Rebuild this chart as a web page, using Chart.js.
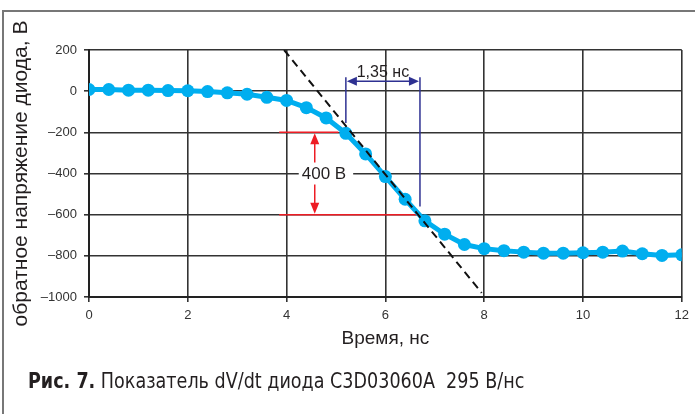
<!DOCTYPE html>
<html>
<head>
<meta charset="utf-8">
<script src="https://cdn.jsdelivr.net/npm/chart.js@4"></script>
<style>
  body { margin: 0; background: #fff; }
  #wrap { position: relative; width: 695px; height: 414px; overflow: hidden; }
  #frame { position: absolute; left: 2px; top: 10px; width: 700px; height: 420px;
           border-top: 2px solid #777; border-left: 2px solid #777; }
  #chartBox { position: absolute; left: 0; top: 0; width: 695px; height: 414px; }
  #caption { position: absolute; left: 28px; top: 369px; font-family: "DejaVu Sans Condensed", "Liberation Sans Narrow", "Roboto", sans-serif;
             font-size: 21px; color: #231f20; white-space: pre; font-stretch: condensed;
             transform: scaleX(0.93); transform-origin: left center; }
  #caption b { font-weight: 900; }
</style>
</head>
<body>
<div id="wrap">
  <div id="frame"></div>
  <div id="chartBox"><canvas id="diodeChart"></canvas></div>
  <div id="caption"><b>Рис. 7.</b> Показатель dV/dt диода C3D03060A  295 В/нс</div>
</div>
<script>
// время, нс
var times = [0, 0.4, 0.8, 1.2, 1.6, 2.0, 2.4, 2.8, 3.2, 3.6, 4.0, 4.4, 4.8, 5.2, 5.6, 6.0,
             6.4, 6.8, 7.2, 7.6, 8.0, 8.4, 8.8, 9.2, 9.6, 10.0, 10.4, 10.8, 11.2, 11.6, 12.0];
// обратное напряжение, В
var voltage = [8, 8, 5, 5, 3, 2, -2, -8, -15, -30, -45, -80, -130, -205, -305, -415,
               -525, -630, -695, -745, -765, -775, -782, -787, -787, -785, -782, -777, -790, -798, -795];

// касательная (dV/dt)
var tangentT = [3.95, 7.95];
var tangentV = [200, -980];

// красные уровни 400 В
var redLevels = [-200, -600];
var redStart = 3.85;
var redEnd = [5.05, 6.65];
var redArrowT = 4.57;
var redLabel = '400 В';

// синие отметки 1,35 нс
var blueTimes = [5.2, 6.7];
var blueBottom = [-155, -560];
var blueTop = 68;
var blueArrowV = 48;
var blueLabel = '1,35 нс';

function arrowHead(ctx, x, y, dx, dy, len, half) {
    ctx.beginPath();
    ctx.moveTo(x, y);
    ctx.lineTo(x - dx * len - dy * half, y - dy * len - dx * half);
    ctx.lineTo(x - dx * len + dy * half, y - dy * len + dx * half);
    ctx.closePath();
    ctx.fill();
}

var annotations = {
    id: 'annotations',
    beforeDatasetsDraw: function (chart) {
        var ctx = chart.ctx;
        var xs = chart.scales.x, ys = chart.scales.y;
        ctx.save();
        // красные линии
        ctx.strokeStyle = '#ed1c24';
        ctx.fillStyle = '#ed1c24';
        ctx.lineWidth = 1.5;
        for (var i = 0; i < redLevels.length; i++) {
            var py = ys.getPixelForValue(redLevels[i]);
            ctx.beginPath();
            ctx.moveTo(xs.getPixelForValue(redStart), py);
            ctx.lineTo(xs.getPixelForValue(redEnd[i]), py);
            ctx.stroke();
        }
        var ax = xs.getPixelForValue(redArrowT);
        var y1 = ys.getPixelForValue(redLevels[0]) + 1;
        var y2 = ys.getPixelForValue(redLevels[1]) - 1;
        ctx.beginPath();
        ctx.moveTo(ax, y1 + 8);
        ctx.lineTo(ax, y2 - 8);
        ctx.stroke();
        arrowHead(ctx, ax, y1, 0, -1, 11, 4.5);
        arrowHead(ctx, ax, y2, 0, 1, 11, 4.5);
        // подпись 400 В
        var ly = ys.getPixelForValue((redLevels[0] + redLevels[1]) / 2);
        ctx.font = '17px "Liberation Sans", Arial, sans-serif';
        var tw = ctx.measureText(redLabel).width;
        ctx.fillStyle = '#fff';
        ctx.fillRect(ax - 16, ly - 11, tw + 10, 22);
        ctx.fillStyle = '#231f20';
        ctx.textAlign = 'left';
        ctx.textBaseline = 'middle';
        ctx.fillText(redLabel, ax - 13, ly + 1);

        // синие отметки
        ctx.strokeStyle = '#2e3192';
        ctx.fillStyle = '#2e3192';
        ctx.lineWidth = 1.5;
        var bx = [];
        for (var j = 0; j < blueTimes.length; j++) {
            bx.push(xs.getPixelForValue(blueTimes[j]));
            ctx.beginPath();
            ctx.moveTo(bx[j], ys.getPixelForValue(blueTop));
            ctx.lineTo(bx[j], ys.getPixelForValue(blueBottom[j]));
            ctx.stroke();
        }
        var by = ys.getPixelForValue(blueArrowV);
        ctx.beginPath();
        ctx.moveTo(bx[0] + 8, by);
        ctx.lineTo(bx[1] - 8, by);
        ctx.stroke();
        arrowHead(ctx, bx[0] + 1, by, -1, 0, 10, 4.5);
        arrowHead(ctx, bx[1] - 1, by, 1, 0, 10, 4.5);
        ctx.fillStyle = '#231f20';
        ctx.font = '16px "Liberation Sans", Arial, sans-serif';
        ctx.textAlign = 'center';
        ctx.textBaseline = 'alphabetic';
        ctx.fillText(blueLabel, (bx[0] + bx[1]) / 2, by - 4);
        ctx.restore();
    }
};

var dash = function (v) { return String(v).replace('-', '\u2013'); };

var ctx = document.getElementById('diodeChart').getContext('2d');
var diodeChart = new Chart(ctx, {
    type: 'line',
    data: {
        datasets: [{
            label: 'dV/dt',
            data: tangentT.map(function (t, i) { return { x: t, y: tangentV[i] }; }),
            borderColor: '#111',
            borderWidth: 2,
            borderDash: [8, 5],
            pointRadius: 0,
            fill: false
        }, {
            label: 'Напряжение',
            data: times.map(function (t, i) { return { x: t, y: voltage[i] }; }),
            borderColor: '#00aeef',
            backgroundColor: '#00aeef',
            borderWidth: 5,
            pointRadius: 6.5,
            pointBorderWidth: 0,
            tension: 0,
            fill: false
        }]
    },
    options: {
        responsive: true,
        maintainAspectRatio: false,
        animation: false,
        layout: { padding: { left: 9, right: 13, top: 50, bottom: 64 } },
        plugins: { legend: { display: false }, tooltip: { enabled: false } },
        scales: {
            x: {
                type: 'linear',
                min: 0, max: 12,
                ticks: { stepSize: 2, color: '#333', padding: 6,
                         font: { family: '"Liberation Sans", Arial, sans-serif', size: 13 } },
                grid: { color: '#333', lineWidth: 1.6, tickLength: 5, tickColor: '#333' },
                border: { color: '#222', width: 2 },
                title: { display: true, text: 'Время, нс', color: '#231f20', padding: { top: 0, bottom: 0 },
                         font: { family: '"Liberation Sans", Arial, sans-serif', size: 19 } },
                afterFit: function (s) { s.height = 53; }
            },
            y: {
                min: -1000, max: 200,
                ticks: { stepSize: 200, color: '#333', padding: 7, callback: dash,
                         font: { family: '"Liberation Sans", Arial, sans-serif', size: 13 } },
                grid: { color: '#333', lineWidth: 1.6, tickLength: 5, tickColor: '#333' },
                border: { color: '#222', width: 2 },
                title: { display: true, text: 'обратное напряжение диода, В', color: '#231f20', padding: 0,
                         font: { family: '"Liberation Sans", Arial, sans-serif', size: 21 } },
                afterFit: function (s) { s.width = 80; }
            }
        }
    },
    plugins: [annotations]
});
</script>
</body>
</html>
